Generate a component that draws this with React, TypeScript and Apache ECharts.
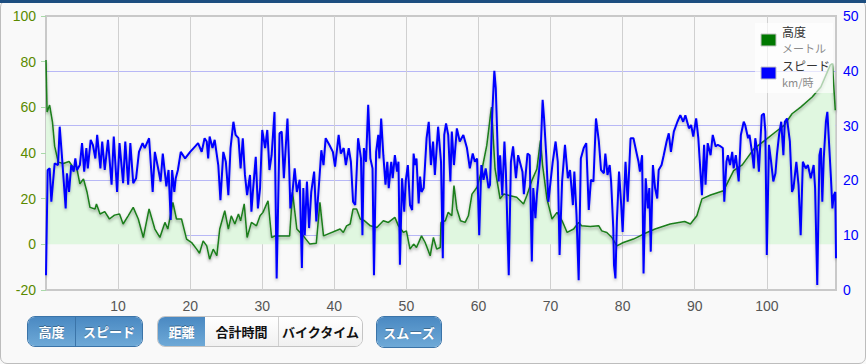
import React, { useEffect, useRef } from "react";
import * as echarts from "echarts";

const altDist = [0, 0.15, 0.5, 0.9, 1.2, 1.7, 2.4, 3.2, 3.75, 4.2, 4.7, 5.2, 5.7, 6.1, 6.8, 7.0, 7.5, 8.15, 8.8, 9.5, 10.2, 10.7, 11.4, 12.1, 12.8, 13.5, 14.3, 15.1, 15.8, 16.5, 16.9, 17.6, 18.1, 18.8, 19.5, 20.2, 20.9, 21.3, 21.8, 22.3, 22.7, 23.2, 23.7, 24.1, 24.8, 25.3, 25.7, 26.2, 26.7, 27.0, 27.5, 27.9, 28.5, 29.2, 29.7, 30.1, 30.8, 31.3, 31.8, 33.8, 34.2, 34.8, 35.7, 36.6, 37.5, 38.0, 38.5, 40.8, 41.25, 41.7, 42.2, 42.6, 43.1, 43.6, 44.2, 45.0, 45.9, 46.8, 47.5, 48.4, 48.9, 49.6, 50.0, 50.5, 51.0, 51.4, 52.1, 52.6, 53.3, 53.75, 54.2, 54.7, 54.8, 55.4, 55.8, 56.3, 56.6, 57.0, 57.5, 58.15, 58.6, 59.1, 59.8, 60.5, 61.15, 61.8, 62.3, 63.0, 63.5, 64.4, 65.3, 66.25, 66.7, 67.4, 68.1, 68.6, 68.9, 69.5, 70.2, 70.9, 71.6, 72.3, 73.2, 73.9, 74.3, 75.5, 76.7, 77.1, 77.8, 78.5, 79.2, 80.1, 81.5, 82.9, 84.5, 86.6, 88.6, 89.4, 90.3, 91.0, 92.2, 94.0, 95.4, 96.6, 98.2, 100.0, 101.2, 102.4, 103.5, 104.7, 106.3, 107.5, 108.8, 109.1, 109.5];
const altVals = [80.7, 58, 61, 53.5, 43, 36, 35.4, 36.3, 33.8, 34.5, 26.5, 28.6, 22.8, 16.2, 15.5, 17.7, 13.3, 14.3, 11.1, 12.8, 13.3, 8.9, 12.5, 16.2, 11.1, 3.0, 15.5, 6.7, 3.0, 9.6, 6.7, 18.4, 11.1, 11.1, 2.3, 0.8, -2.1, -3.9, 1.5, -0.7, -6.5, -2.1, -5.0, 6.7, 14.7, 6.7, 12.5, 8.9, 13.3, 10.3, 17.7, 3.0, 9.6, 8.1, 12.5, 14.0, 19.1, 3.0, 3.7, 3.7, 22.8, 6.7, 3.7, 0.1, 0.5, 18.4, 3.7, 6.7, 5.2, 8.1, 8.9, 15.5, 15.5, 11.1, 10.3, 8.1, 7.4, 10.3, 9.6, 11.8, 8.1, 5.2, 5.9, -2.1, 0.1, -1.4, 3.7, 0.8, -5.0, 3.0, -2.1, -1.4, 9.6, 10.3, 14.0, 12.5, 25.7, 15.5, 10.3, 9.6, 12.5, 22.0, 25.0, 33.0, 43.3, 60.1, 33.0, 19.9, 22.0, 21.3, 20.6, 17.7, 21.3, 27.9, 33.0, 45.5, 34.5, 19.9, 11.1, 14.0, 10.3, 5.2, 6.7, 9.6, 8.1, 7.8, 8.1, 5.9, 5.2, 3.0, -0.7, 0.8, 2.3, 4.5, 6.7, 8.9, 10.0, 8.9, 12.5, 19.9, 21.6, 23.5, 32.3, 34.8, 41.8, 46.2, 49.2, 52.1, 57.2, 60.1, 64.5, 68.9, 78.5, 79.2, 58.7];

const spdDist = [0.0, 0.23, 0.51, 0.74, 1.2, 1.67, 1.9, 2.2, 2.73, 2.9, 3.2, 3.5, 3.84, 4.07, 4.3, 4.7, 5.0, 5.3, 5.6, 5.8, 6.2, 6.5, 6.85, 7.1, 7.55, 7.8, 8.15, 8.6, 9.1, 9.4, 9.86, 10.2, 10.7, 11.0, 11.4, 11.7, 12.1, 12.5, 12.9, 13.4, 13.7, 14.3, 14.8, 15.1, 15.6, 15.9, 16.2, 16.7, 17.0, 17.3, 17.5, 17.8, 18.0, 18.3, 18.7, 19.3, 20.0, 20.7, 21.1, 21.6, 22.0, 22.3, 22.5, 22.7, 23.1, 23.4, 23.9, 24.2, 24.6, 24.95, 25.3, 25.6, 26.0, 26.3, 26.7, 27.0, 27.3, 27.6, 27.9, 28.3, 28.5, 28.7, 29.1, 29.4, 29.7, 30.0, 30.4, 30.7, 31.0, 31.3, 31.7, 32.0, 32.4, 32.7, 33.0, 33.5, 33.7, 33.9, 34.2, 34.5, 34.8, 35.2, 35.5, 35.7, 35.9, 36.2, 36.5, 36.8, 37.2, 37.5, 37.9, 38.2, 38.5, 38.8, 39.3, 39.8, 40.1, 40.6, 40.9, 41.3, 41.6, 42.0, 42.3, 42.6, 42.9, 43.3, 43.7, 43.9, 44.1, 44.4, 44.7, 45.0, 45.3, 45.5, 45.8, 46.1, 46.25, 46.5, 46.8, 47.1, 47.35, 47.55, 47.9, 48.1, 48.4, 48.7, 48.9, 49.1, 49.4, 49.7, 49.9, 50.2, 50.5, 50.8, 51.0, 51.2, 51.4, 51.7, 51.9, 52.1, 52.4, 52.8, 53.1, 53.4, 53.7, 53.95, 54.4, 54.8, 55.05, 55.25, 55.5, 55.8, 56.1, 56.3, 56.6, 57.0, 57.4, 57.9, 58.4, 58.8, 59.2, 59.5, 59.8, 60.1, 60.4, 60.7, 61.0, 61.4, 61.6, 61.9, 62.2, 62.4, 62.8, 63.0, 63.3, 63.6, 63.8, 64.2, 64.5, 64.8, 65.2, 65.5, 65.8, 66.1, 66.3, 66.8, 67.1, 67.4, 67.6, 67.9, 68.1, 68.6, 68.9, 69.1, 69.4, 69.7, 70.0, 70.3, 70.7, 71.0, 71.25, 71.6, 72.0, 72.4, 72.7, 73.1, 73.3, 73.6, 73.9, 74.2, 74.6, 74.95, 75.3, 75.6, 75.95, 76.3, 76.7, 77.0, 77.4, 77.6, 77.9, 78.2, 78.4, 78.7, 78.8, 79.0, 79.2, 79.5, 79.8, 80.0, 80.4, 80.7, 81.1, 81.5, 82.0, 82.2, 82.4, 82.7, 82.9, 83.2, 83.5, 83.7, 83.9, 84.2, 84.5, 84.8, 85.0, 85.4, 85.7, 86.1, 86.4, 86.7, 87.1, 87.6, 88.0, 88.4, 88.7, 89.2, 89.5, 89.8, 90.2, 90.5, 91.0, 91.3, 91.5, 91.8, 92.2, 92.5, 92.9, 93.2, 93.6, 93.9, 94.1, 94.4, 94.6, 94.9, 95.2, 95.4, 95.7, 96.1, 96.4, 96.8, 97.0, 97.4, 97.6, 98.0, 98.2, 98.4, 98.7, 98.9, 99.3, 99.6, 99.8, 100.0, 100.3, 100.6, 100.9, 101.2, 101.4, 101.7, 102.0, 102.3, 102.5, 102.8, 103.2, 103.5, 103.7, 104.1, 104.4, 104.7, 105.0, 105.4, 105.7, 106.1, 106.5, 106.7, 107.0, 107.3, 107.5, 107.7, 107.9, 108.2, 108.4, 108.6, 108.9, 109.1, 109.3, 109.5, 109.6];
const spdVals = [2.7, 21.9, 22.2, 16.1, 23.1, 22.8, 29.8, 24.6, 14.9, 21.3, 17.9, 22.8, 21.6, 24.0, 21.9, 22.8, 26.8, 21.6, 25.9, 22.2, 27.4, 26.5, 24.0, 28.3, 22.2, 27.1, 21.9, 27.4, 19.2, 28.0, 17.9, 26.8, 19.5, 27.1, 19.2, 26.8, 19.5, 20.4, 25.2, 26.8, 25.9, 27.7, 17.9, 25.2, 21.9, 19.8, 24.9, 18.9, 21.9, 12.8, 21.9, 17.9, 20.4, 21.9, 25.2, 24.0, 25.2, 26.2, 26.8, 25.2, 27.7, 27.1, 24.0, 28.0, 25.9, 27.4, 22.8, 16.4, 25.2, 23.4, 17.3, 25.9, 30.7, 28.3, 27.7, 22.2, 27.7, 21.0, 17.3, 21.0, 14.3, 17.9, 24.3, 14.9, 18.6, 29.2, 25.9, 29.2, 21.9, 24.6, 32.5, 2.1, 28.6, 28.9, 20.4, 31.3, 24.0, 14.9, 17.9, 22.2, 17.9, 20.1, 4.0, 18.6, 10.0, 19.8, 11.3, 17.9, 21.6, 12.5, 19.8, 25.5, 22.8, 27.7, 26.5, 25.2, 22.5, 28.3, 24.9, 25.9, 22.8, 25.9, 23.4, 16.1, 15.5, 27.7, 24.0, 10.0, 25.9, 23.4, 33.8, 24.0, 22.2, 2.7, 25.2, 28.3, 24.0, 31.3, 24.6, 19.2, 23.4, 18.6, 23.4, 20.4, 24.6, 21.6, 23.4, 4.6, 20.4, 14.3, 19.8, 22.8, 15.5, 14.6, 24.9, 22.8, 24.0, 15.8, 20.7, 17.9, 18.6, 27.7, 30.7, 22.8, 27.1, 21.0, 29.8, 23.4, 5.8, 28.3, 30.4, 28.3, 19.8, 28.9, 22.8, 29.5, 27.1, 28.3, 25.9, 22.2, 24.9, 23.4, 24.0, 10.0, 22.8, 20.1, 22.2, 18.6, 19.2, 31.9, 40.0, 36.8, 19.8, 24.6, 17.3, 27.1, 21.6, 2.7, 23.4, 26.2, 20.4, 24.6, 23.1, 21.6, 17.5, 24.9, 24.6, 5.2, 18.6, 13.1, 17.3, 24.6, 34.7, 31.3, 24.6, 16.1, 19.8, 23.4, 27.1, 23.4, 6.4, 19.8, 26.5, 20.4, 21.9, 15.5, 21.6, 13.7, 1.8, 24.0, 25.9, 26.8, 14.6, 20.1, 19.8, 31.3, 27.1, 21.9, 21.3, 24.9, 21.0, 22.8, 19.8, 11.3, 4.6, 2.1, 12.5, 21.6, 15.5, 10.6, 23.4, 16.1, 27.7, 27.7, 24.6, 23.4, 21.6, 24.6, 3.0, 20.4, 14.9, 18.6, 7.0, 22.8, 18.6, 16.7, 21.9, 22.8, 24.6, 27.1, 28.6, 25.2, 28.9, 30.7, 31.9, 30.7, 31.9, 29.5, 30.1, 28.0, 31.3, 27.7, 17.3, 26.5, 19.2, 26.8, 24.6, 28.3, 26.2, 26.5, 26.2, 25.9, 16.1, 23.4, 24.6, 22.8, 25.2, 22.2, 24.6, 19.8, 28.3, 30.7, 30.1, 27.7, 28.3, 24.6, 22.2, 27.7, 25.2, 21.6, 31.9, 32.2, 28.9, 6.4, 26.5, 23.4, 19.8, 21.3, 24.6, 28.3, 30.7, 24.6, 30.7, 31.3, 27.1, 17.9, 18.6, 23.4, 19.2, 10.0, 23.4, 22.2, 22.8, 20.4, 22.8, 18.6, 0.9, 24.6, 25.9, 16.1, 24.0, 30.7, 32.5, 27.7, 20.4, 14.9, 17.3, 17.9, 5.8];

const xMax = 109.6;
const altAxis = { min: -20, max: 100, interval: 20 };
const spdAxis = { min: 0, max: 50, interval: 10 };
const altName = "高度";
const altUnit = "メートル";
const spdName = "スピード";
const spdUnit = "km/時";

const CJK = '"Noto Sans CJK JP", "Noto Sans", sans-serif';

function Btn({ label, active, style }: { label: string; active: boolean; style?: any }) {
  return (
    <div
      style={{
        display: "flex",
        alignItems: "center",
        justifyContent: "center",
        fontFamily: CJK,
        fontWeight: 700,
        fontSize: 13,
        color: active ? "#fff" : "#111",
        background: active
          ? "linear-gradient(#4a89c2, #6ea9d7)"
          : "linear-gradient(#ffffff, #f1f1f1)",
        textShadow: active ? "0 -1px 0 rgba(0,0,0,0.3)" : "none",
        boxSizing: "border-box",
        height: "100%",
        ...style,
      }}
    >
      {label}
    </div>
  );
}

export default function App() {
  const ref = useRef<HTMLDivElement>(null);
  useEffect(() => {
    if (!ref.current) return;
    const chart = echarts.init(ref.current, null, { renderer: "svg" });
    const altData = altDist.map((d, i) => [d, altVals[i]]);
    const spdData = spdDist.map((d, i) => [d, spdVals[i]]);
    const nameFont = `12px ${CJK}`;
    const unitFont = `11px ${CJK}`;
    chart.setOption({
      animation: false,
      textStyle: { fontFamily: '"Liberation Sans", Arial, sans-serif' },
      grid: {
        left: 46,
        right: 30,
        top: 16,
        bottom: 74,
        show: true,
        backgroundColor: "#f9f9f9",
        borderColor: "#c9c9c9",
        borderWidth: 2,
      },
      xAxis: {
        type: "value",
        min: 0,
        max: xMax,
        interval: 10,
        axisLine: { show: false },
        axisTick: { show: false },
        axisLabel: { color: "#555", fontSize: 14, margin: 9, showMinLabel: false, showMaxLabel: false },
        splitLine: { show: true, showMinLine: false, showMaxLine: false, lineStyle: { color: "#d0d0d0", width: 1 } },
      },
      yAxis: [
        {
          type: "value",
          position: "left",
          min: altAxis.min,
          max: altAxis.max,
          interval: altAxis.interval,
          axisLine: { show: false },
          axisTick: { show: true, length: 5, lineStyle: { color: "#a9d9a9" } },
          axisLabel: { color: "#5a8a00", fontSize: 14, margin: 10 },
          splitLine: { show: false },
        },
        {
          type: "value",
          position: "right",
          min: spdAxis.min,
          max: spdAxis.max,
          interval: spdAxis.interval,
          axisLine: { show: false },
          axisTick: { show: false },
          axisLabel: { color: "#0000ff", fontSize: 14, margin: 7 },
          splitLine: { show: true, showMinLine: false, showMaxLine: false, lineStyle: { color: "#b8b8f6", width: 1 } },
        },
      ],
      series: [
        {
          name: altName,
          type: "line",
          yAxisIndex: 0,
          data: altData,
          symbol: "none",
          lineStyle: {
            color: "#1a7d1a",
            width: 1.5,
            shadowColor: "rgba(0,0,0,0.35)",
            shadowBlur: 3,
            shadowOffsetY: 2,
          },
          areaStyle: { color: "#e0f7e0", opacity: 1 },
        },
        {
          name: spdName,
          type: "line",
          yAxisIndex: 1,
          data: spdData,
          symbol: "none",
          lineStyle: {
            color: "#0000ff",
            width: 2,
            shadowColor: "rgba(0,0,0,0.25)",
            shadowBlur: 3,
            shadowOffsetY: 2,
          },
        },
      ],
      graphic: [
        {
          type: "rect",
          z: 100,
          shape: { x: 755, y: 23, width: 78, height: 70 },
          style: { fill: "rgba(255,255,255,0.65)" },
        },
        {
          type: "rect",
          z: 101,
          shape: { x: 761, y: 34, width: 15, height: 12 },
          style: { fill: "#007800", stroke: "#c4c4c4", lineWidth: 1 },
        },
        {
          type: "text",
          z: 101,
          x: 782,
          y: 31,
          style: { text: altName, fill: "#333", font: nameFont, lineHeight: 12, verticalAlign: "middle" },
        },
        {
          type: "text",
          z: 101,
          x: 782,
          y: 48,
          style: { text: altUnit, fill: "#8a8a8a", font: unitFont, lineHeight: 11, verticalAlign: "middle" },
        },
        {
          type: "rect",
          z: 101,
          shape: { x: 761, y: 67, width: 15, height: 12 },
          style: { fill: "#0000ff", stroke: "#c4c4c4", lineWidth: 1 },
        },
        {
          type: "text",
          z: 101,
          x: 782,
          y: 65,
          style: { text: spdName, fill: "#333", font: nameFont, lineHeight: 12, verticalAlign: "middle" },
        },
        {
          type: "text",
          z: 101,
          x: 782,
          y: 82,
          style: { text: spdUnit, fill: "#8a8a8a", font: unitFont, lineHeight: 11, verticalAlign: "middle" },
        },
      ],
    });
    return () => chart.dispose();
  }, []);

  return (
    <div
      style={{
        position: "fixed",
        left: 0,
        top: 0,
        width: 866,
        height: 364,
        background: "#f9f9f9",
        overflow: "hidden",
      }}
    >
      <div
        style={{
          position: "absolute",
          left: 0,
          top: 0,
          width: 864,
          height: 362,
          border: "1px solid #bdbdbd",
          borderRadius: 7,
          boxSizing: "content-box",
        }}
      />
      <div style={{ position: "absolute", left: 0, top: 0, width: 866, height: 3, background: "#1d4e80" }} />
      <div ref={ref} style={{ position: "absolute", left: 0, top: 0, width: 866, height: 364 }} />
      <div
        style={{
          position: "absolute",
          left: 27,
          top: 316,
          width: 116,
          height: 31,
          display: "flex",
          border: "1px solid #3b74a8",
          borderRadius: 8,
          overflow: "hidden",
          boxSizing: "border-box",
        }}
      >
        <Btn label="高度" active={true} style={{ width: 48, borderRight: "1px solid #3b74a8" }} />
        <Btn label="スピード" active={true} style={{ flex: 1 }} />
      </div>
      <div
        style={{
          position: "absolute",
          left: 157,
          top: 316,
          width: 206,
          height: 31,
          display: "flex",
          border: "1px solid #c4c4c4",
          borderRadius: 8,
          overflow: "hidden",
          boxSizing: "border-box",
        }}
      >
        <Btn label="距離" active={true} style={{ width: 47 }} />
        <Btn label="合計時間" active={false} style={{ width: 74, borderRight: "1px solid #d0d0d0" }} />
        <Btn label="バイクタイム" active={false} style={{ flex: 1 }} />
      </div>
      <div
        style={{
          position: "absolute",
          left: 376,
          top: 316,
          width: 66,
          height: 32,
          display: "flex",
          border: "1px solid #3b74a8",
          borderRadius: 8,
          overflow: "hidden",
          boxSizing: "border-box",
        }}
      >
        <Btn label="スムーズ" active={true} style={{ flex: 1 }} />
      </div>
    </div>
  );
}
